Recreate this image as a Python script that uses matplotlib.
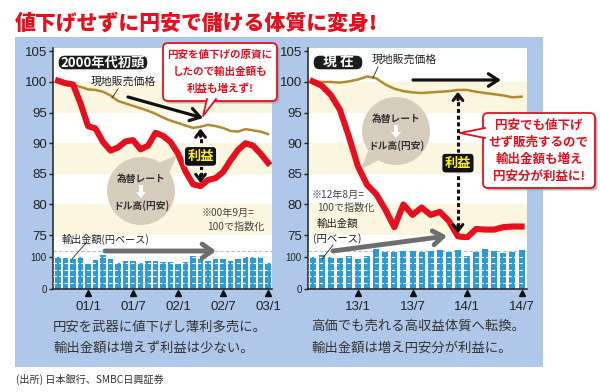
import matplotlib
matplotlib.use('Agg')
import matplotlib.pyplot as plt
from matplotlib.patches import Rectangle, FancyBboxPatch, Circle, Polygon, FancyArrow
from matplotlib.transforms import blended_transform_factory
import numpy as np

plt.rcParams['font.family'] = ['Noto Sans CJK JP', 'DejaVu Sans']

W, H = 600, 392
RED = '#e60f1e'
GOLD = '#b38b2d'
BLUE = '#afc8e9'
CREAM = '#fbf6df'
BARC = '#2a9bd7'
DARK = '#222222'

# 左：2000年代初頭（00年9月=100、月次）
left_tick_labels = ['01/1', '01/7', '02/1', '02/7', '03/1']
left_tick_pos = [4, 10, 16, 22, 28]
left_rate = [100.2, 99.8, 99.6, 96.5, 92.8, 92.4, 90.2, 88.8, 89.3, 90.3, 90.5, 89.0,
             89.6, 91.7, 91.2, 90.2, 88.3, 85.4, 83.3, 83.0, 84.0, 84.3, 85.3, 87.2,
             88.9, 90.0, 89.6, 88.3, 86.8]
left_price = [100.0, 99.8, 99.5, 99.2, 98.8, 98.7, 98.4, 97.8, 96.9, 96.5, 96.1, 95.7,
              95.3, 94.8, 94.2, 93.7, 93.3, 92.9, 92.5, 92.7, 93.0, 92.8, 92.5, 92.0,
              91.9, 92.3, 92.1, 91.9, 91.5]
left_export = [100, 98, 94, 100, 79, 90, 106, 93, 82, 88, 86, 81, 88, 87, 83, 85, 77,
               85, 103, 94, 88, 95, 94, 86, 95, 101, 101, 99, 82]

# 右：現在（12年8月=100、月次）
right_tick_labels = ['13/1', '13/7', '14/1', '14/7']
right_tick_pos = [5, 11, 17, 23]
right_rate = [100.1, 99.4, 97.9, 95.5, 91.1, 86.2, 83.2, 81.7, 79.2, 76.3, 80.0, 78.3,
              79.5, 78.3, 78.8, 77.3, 74.8, 74.6, 76.0, 75.9, 75.9, 76.3, 76.4, 76.4]
right_price = [100.2, 100.0, 100.0, 99.9, 100.1, 100.4, 100.9, 100.6, 99.6, 98.9, 98.5,
               98.3, 98.2, 98.3, 98.4, 98.5, 98.7, 98.7, 98.4, 98.2, 98.0, 97.8, 97.5, 97.6]
right_export = [99, 105, 101, 98, 103, 94, 104, 124, 115, 115, 120, 119, 115, 120, 121,
                116, 121, 103, 115, 126, 120, 111, 116, 122]

fig = plt.figure(figsize=(6, 3.92), dpi=100)
fig.patch.set_facecolor('white')


def px_axes(x0, y0, x1, y1, z):
    ax = fig.add_axes([x0 / W, 1 - y1 / H, (x1 - x0) / W, (y1 - y0) / H])
    ax.set_zorder(z)
    return ax


def overlay(z):
    ax = px_axes(0, 0, W, H, z)
    ax.set_xlim(0, W)
    ax.set_ylim(H, 0)
    ax.axis('off')
    return ax


bg = overlay(0)
fg = overlay(10)
bg.add_patch(Rectangle((15, 37), 528, 330, fc=BLUE, ec='none'))


def draw_panel(x0, x1, xlim, rate, price, export, tick_pos, tick_labels, barw, pi):
    ax = px_axes(x0, 48, x1, 240, 2)
    axb = px_axes(x0, 240, x1, 289, 2)
    x = np.arange(len(rate))

    for lo in (75, 85, 95):
        ax.axhspan(lo, lo + 5, color=CREAM, lw=0, zorder=0)
    ax.plot(x, price, color=GOLD, lw=1.8, zorder=3)
    ax.plot(x, rate, color=RED, lw=4.4, zorder=4, clip_on=False)
    for s in ('top', 'right', 'bottom'):
        ax.spines[s].set_visible(False)
    ax.spines['left'].set_color(DARK)
    ax.spines['left'].set_linewidth(1.1)
    ax.set_yticks(range(75, 106, 5))
    ax.set_xticks([])
    ax.tick_params(axis='y', length=3, width=1, pad=1.5, labelsize=9.5, colors=DARK)
    for t in ax.get_yticklabels():
        t.set_fontfamily('Liberation Sans')

    # 利益の矢印
    top, bot = price[pi], rate[pi]
    ax.plot([pi, pi], [top - 0.9, bot + 1.0], color='#111', lw=2.2,
            ls=(0, (1.3, 0.9)), zorder=5)
    hs = dict(arrowstyle='->,head_length=0.45,head_width=0.35', color='#111', lw=2.2,
              shrinkA=0, shrinkB=0)
    ax.annotate('', xy=(pi, top - 0.3), xytext=(pi, top - 1.6), arrowprops=hs, zorder=5)
    ax.annotate('', xy=(pi, bot + 0.5), xytext=(pi, bot + 1.8), arrowprops=hs, zorder=5)
    ax.text(pi, (top + bot) / 2, '利益', ha='center', va='center', color='#fff200',
            fontsize=9.5, weight='bold', zorder=6,
            bbox=dict(boxstyle='round,pad=0.22,rounding_size=0.3', fc='#111', ec='white', lw=0.8))

    # 輸出金額
    axb.bar(x, export, width=barw, color=BARC, zorder=2)
    for g in range(20, 121, 20):
        axb.axhline(g, color='#bdbdbd', ls=(0, (3, 2)), lw=0.8, zorder=1)
    for g in range(20, 101, 20):
        axb.axhline(g, color='white', ls=(0, (3, 2)), lw=0.8, zorder=3)
    for s in ('top', 'right'):
        axb.spines[s].set_visible(False)
    for s in ('left', 'bottom'):
        axb.spines[s].set_color(DARK)
        axb.spines[s].set_linewidth(1.1)
    axb.set_yticks([0, 100])
    axb.tick_params(axis='y', length=3, width=1, pad=1.5, labelsize=7, colors=DARK)
    axb.set_xticks(tick_pos)
    axb.set_xticklabels(tick_labels)
    axb.tick_params(axis='x', length=0, pad=9, labelsize=9.5, colors=DARK)
    for t in axb.get_yticklabels() + axb.get_xticklabels():
        t.set_fontfamily('Liberation Sans')
    tr = blended_transform_factory(axb.transData, axb.transAxes)
    axb.plot(tick_pos, [-0.075] * len(tick_pos), transform=tr, ls='none', marker='^',
             ms=4.5, color='#111', clip_on=False, zorder=5)

    ax.set_xlim(*xlim)
    ax.set_ylim(74.2, 105.55)
    axb.set_xlim(*xlim)
    axb.set_ylim(0, 153)
    return ax, axb


def bubble(ax, cx, cy, r, tip):
    c = Circle((cx, cy), r, transform=fg.transData, fc='#d7cdbd', ec='none', zorder=2)
    ax.add_patch(c)
    th = np.arctan2(tip[1] - cy, tip[0] - cx)
    d = 0.28
    pts = [(cx + r * 0.9 * np.cos(th - d), cy + r * 0.9 * np.sin(th - d)), tip,
           (cx + r * 0.9 * np.cos(th + d), cy + r * 0.9 * np.sin(th + d))]
    ax.add_patch(Polygon(pts, closed=True, transform=fg.transData, fc='#d7cdbd', ec='none',
                         zorder=2))
    fg.text(cx, cy - 12, '為替レート', ha='center', va='center', fontsize=7, weight='bold',
            color='#333')
    fg.add_patch(FancyArrow(cx, cy - 6, 0, 13, width=4, head_width=10, head_length=6,
                            length_includes_head=True, fc='white', ec='none'))
    fg.text(cx, cy + 15, 'ドル高(円安)', ha='center', va='center', fontsize=7, weight='bold',
            color='#333')


def callout(x0, y0, x1, y1, base1, base2, tip, lines, fs, y_first, dy, cx):
    w, h = x1 - x0, y1 - y0
    fg.add_patch(FancyBboxPatch((x0 + 2.5, y0 + 2.5), w, h,
                                boxstyle='round,pad=0,rounding_size=5', fc='#9c9c9c',
                                ec='none', alpha=0.7))
    fg.add_patch(FancyBboxPatch((x0, y0), w, h, boxstyle='round,pad=0,rounding_size=5',
                                fc='white', ec=RED, lw=1.3))
    fg.add_patch(Polygon([base1, tip, base2], closed=True, fc='white', ec='none', zorder=3))
    fg.plot([base1[0], tip[0], base2[0]], [base1[1], tip[1], base2[1]], color=RED, lw=1.3,
            zorder=3)
    for k, s in enumerate(lines):
        fg.text(cx, y_first + k * dy, s, ha='center', va='center', color=RED, fontsize=fs,
                weight='bold', zorder=4)


def pill(x0, y0, x1, y1, s, fs):
    fg.add_patch(FancyBboxPatch((x0, y0), x1 - x0, y1 - y0,
                                boxstyle='round,pad=0,rounding_size=7', fc='#1c1c1c',
                                ec='white', lw=1))
    fg.text((x0 + x1) / 2, (y0 + y1) / 2 + 0.5, s, ha='center', va='center', color='white',
            fontsize=fs, weight='bold')


def arrow(p0, p1, color, lw, hl, hw):
    fg.annotate('', xy=p1, xytext=p0,
                arrowprops=dict(arrowstyle='->,head_length=%s,head_width=%s' % (hl, hw),
                                color=color, lw=lw, shrinkA=0, shrinkB=0))


axL, axLb = draw_panel(53, 272, (-0.67, 28.53), left_rate, left_price, left_export,
                       left_tick_pos, left_tick_labels, 0.72, 19)
axR, axRb = draw_panel(308, 527, (-0.5, 23.6), right_rate, right_price, right_export,
                       right_tick_pos, right_tick_labels, 0.66, 16)

bubble(axL, 141, 191, 34, (177, 155))
bubble(axR, 396, 131, 34, (361, 169))

# タイトル・出所
fg.text(15, 23, '値下げせずに円安で儲ける体質に変身!', fontsize=15, weight='heavy', color=RED,
        va='center')
fg.text(16, 379, '(出所) 日本銀行、SMBC日興証券', fontsize=7.3, color='#333', va='center')

# 左パネルの注記
pill(58, 55, 148, 70, '2000年代初頭', 9.5)
fg.text(123, 82, '現地販売価格', ha='center', va='center', fontsize=7.8, color=DARK)
fg.plot([118, 112], [89, 98], color=DARK, lw=0.6)
arrow((128, 97), (203, 118), '#111', 2.3, 0.7, 0.45)
callout(163, 43, 277, 101, (207, 99), (216, 99), (203, 116),
        ['円安を値下げの原資に', 'したので輸出金額も', '利益も増えず!'], 7.6, 55, 16.5, 220)
fg.text(228, 213, '※00年9月=', ha='center', va='center', fontsize=7.3, color='#444')
fg.text(236, 227, '100で指数化', ha='center', va='center', fontsize=7.3, color='#444')
fg.text(106, 239, '輸出金額(円ベース)', ha='center', va='center', fontsize=7.3, color=DARK)
fg.plot([86, 72], [243, 259], color=DARK, lw=0.6)
arrow((105, 251), (216, 251), '#6e6e6e', 3.5, 0.7, 0.5)
fg.text(53, 326, '円安を武器に値下げし薄利多売に。', fontsize=9.6, color='#333', va='center')
fg.text(53, 348, '輸出金額は増えず利益は少ない。', fontsize=9.6, color='#333', va='center')

# 右パネルの注記
pill(313, 55, 363, 70, '現 在', 10)
fg.text(404, 60, '現地販売価格', ha='center', va='center', fontsize=7.8, color=DARK)
fg.plot([378, 373], [67, 78], color=DARK, lw=0.6)
arrow((413, 80), (501, 80), '#111', 2.3, 0.7, 0.45)
callout(483, 113, 595, 188, (485, 128), (485, 138), (460, 133),
        ['円安でも値下げ', 'せず販売するので', '輸出金額も増え', '円安分が利益に!'],
        9, 125, 17, 539)
fg.text(338, 195, '※12年8月=', ha='center', va='center', fontsize=7.3, color='#444')
fg.text(346, 208, '100で指数化', ha='center', va='center', fontsize=7.3, color='#444')
fg.text(337, 224, '輸出金額', ha='center', va='center', fontsize=7.5, color=DARK)
fg.text(337, 239, '(円ベース)', ha='center', va='center', fontsize=7.5, color=DARK)
fg.plot([333, 322], [245, 259], color=DARK, lw=0.6)
arrow((333, 251), (447, 236), '#6e6e6e', 3.5, 0.7, 0.5)
fg.text(311, 326, '高価でも売れる高収益体質へ転換。', fontsize=9.6, color='#333', va='center')
fg.text(311, 348, '輸出金額は増え円安分が利益に。', fontsize=9.6, color='#333', va='center')

fig.savefig('out.png', dpi=100, facecolor='white')
